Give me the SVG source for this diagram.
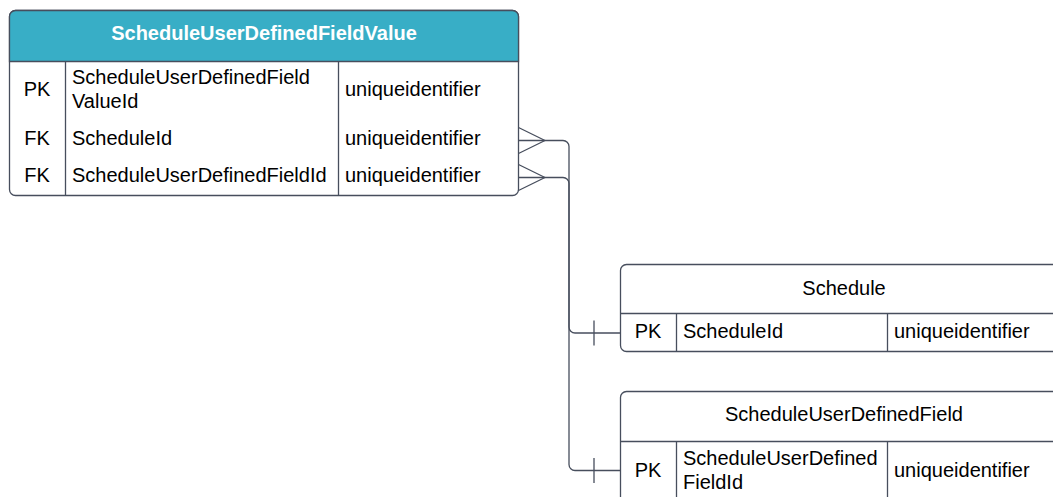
<svg xmlns="http://www.w3.org/2000/svg" width="1053" height="497" viewBox="0 0 1053 497">
<style>
.box{fill:#fff;stroke:#474e5d;stroke-width:1.3}
.ln{fill:none;stroke:#474e5d;stroke-width:1.3}
.t{font-family:"Liberation Sans",Arial,sans-serif;font-size:20px;fill:#000}
.h{font-family:"Liberation Sans",Arial,sans-serif;font-size:20px;font-weight:bold;fill:#fff}
.c{text-anchor:middle}
</style>
<rect width="1053" height="497" fill="#fff"/>
<g id="ScheduleUserDefinedFieldValue">
<rect class="box" x="9.5" y="10.5" width="509" height="185" rx="6"/>
<path d="M9.5 61.5 V16.5 a6 6 0 0 1 6 -6 H512.5 a6 6 0 0 1 6 6 V61.5 Z" fill="#38aec6" stroke="#474e5d" stroke-width="1.3"/>
<line class="ln" x1="65.5" y1="61.5" x2="65.5" y2="195.5"/>
<line class="ln" x1="338.5" y1="61.5" x2="338.5" y2="195.5"/>
<text class="h c" x="264" y="40">ScheduleUserDefinedFieldValue</text>
<text class="t c" x="37" y="96">PK</text>
<text class="t" x="72" y="84">ScheduleUserDefinedField</text>
<text class="t" x="72" y="108">ValueId</text>
<text class="t" x="345" y="96">uniqueidentifier</text>
<text class="t c" x="37" y="145">FK</text>
<text class="t" x="72" y="145">ScheduleId</text>
<text class="t" x="345" y="145">uniqueidentifier</text>
<text class="t c" x="37" y="182">FK</text>
<text class="t" x="72" y="182">ScheduleUserDefinedFieldId</text>
<text class="t" x="345" y="182">uniqueidentifier</text>
</g>
<g id="Schedule">
<rect class="box" x="620.5" y="264.5" width="460" height="87" rx="6"/>
<line class="ln" x1="620.5" y1="313.5" x2="1080" y2="313.5"/>
<line class="ln" x1="676.5" y1="313.5" x2="676.5" y2="351.5"/>
<line class="ln" x1="887.5" y1="313.5" x2="887.5" y2="351.5"/>
<text class="t c" x="844" y="295">Schedule</text>
<text class="t c" x="648" y="338">PK</text>
<text class="t" x="683" y="338">ScheduleId</text>
<text class="t" x="894" y="338">uniqueidentifier</text>
</g>
<g id="ScheduleUserDefinedField">
<rect class="box" x="620.5" y="391.5" width="460" height="130" rx="6"/>
<line class="ln" x1="620.5" y1="441.5" x2="1080" y2="441.5"/>
<line class="ln" x1="676.5" y1="441.5" x2="676.5" y2="510"/>
<line class="ln" x1="887.5" y1="441.5" x2="887.5" y2="510"/>
<text class="t c" x="844" y="421">ScheduleUserDefinedField</text>
<text class="t c" x="648" y="477">PK</text>
<text class="t" x="683" y="465">ScheduleUserDefined</text>
<text class="t" x="683" y="489">FieldId</text>
<text class="t" x="894" y="477">uniqueidentifier</text>
</g>
<g id="connectors">
<path class="ln" d="M518.5 140.5 H563 a6 6 0 0 1 6 6 V327 a6 6 0 0 0 6 6 H620.5"/>
<path class="ln" d="M518.5 127.5 L545 140.5 M518.5 153.5 L545 140.5 M594 320.5 V345.5"/>
<path class="ln" d="M518.5 177.5 H563 a6 6 0 0 1 6 6 V464.5 a6 6 0 0 0 6 6 H620.5"/>
<path class="ln" d="M518.5 164.5 L545 177.5 M518.5 190.5 L545 177.5 M594 458 V483"/>
</g>
</svg>
